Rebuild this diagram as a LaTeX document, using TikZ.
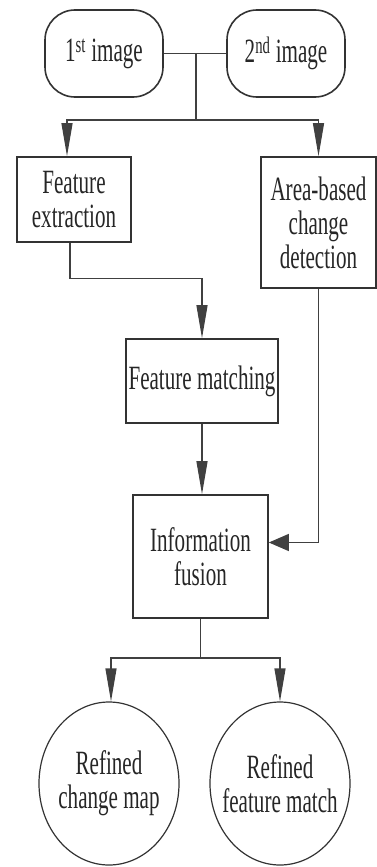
\documentclass[tikz,border=0pt]{standalone}
\usepackage{fontspec}
\setmainfont{Liberation Serif}[FakeStretch=0.62]
\usetikzlibrary{arrows.meta,shapes.geometric}

\begin{document}
\begin{tikzpicture}[x=1pt,y=-1pt,
  font=\fontsize{34}{34}\selectfont,
  box/.style={draw=black!80,line width=1.6pt,inner sep=0pt,align=center,text=black!85},
  ring/.style={ellipse,draw=black!80,line width=1.2pt,inner sep=0pt,minimum width=140pt,minimum height=163pt},
  wire/.style={draw=black!75,line width=1.2pt},
  arrv/.style={wire,-{Triangle[length=33pt,width=11pt]}},
  arrh/.style={wire,-{Triangle[length=20pt,width=17pt]}}]
\useasboundingbox (0,0) rectangle (377,867);

% inputs
\node[box,rounded corners=30pt,minimum width=118pt,minimum height=87pt] (img1) at (104,53.5) {1\textsuperscript{st} image};
\node[box,rounded corners=30pt,minimum width=118pt,minimum height=87pt] (img2) at (286,53.5) {2\textsuperscript{nd} image};

% processing
\node[box,minimum width=114pt,minimum height=85pt] (fext) at (74,199.5) {Feature\\extraction};
\node[box,minimum width=115pt,minimum height=131pt] (area) at (318.5,222.5) {Area-based\\change\\detection};
\node[box,minimum width=152pt,minimum height=84pt] (fmatch) at (202,381) {Feature matching};
\node[box,minimum width=135pt,minimum height=123pt] (fusion) at (200.5,556.5) {Information\\fusion};

% outputs
\node[ring,label={[align=center,text=black!85]center:Refined\\change map}] (cmap) at (109,783.5) {};
\node[ring,label={[align=center,text=black!85]center:Refined\\feature match}] (fmatchout) at (280,783.5) {};

\coordinate (split) at (196,120);
\coordinate (merge) at (200.5,658);

\draw[wire] (img1) -- (img2);
\draw[wire] (split |- img1) -- (split);
\draw[arrv] (split) -| ([xshift=-7pt]fext.north);
\draw[arrv] (split) -| (area.north);
\draw[arrv] ([xshift=-4pt]fext.south) -- ++(0,36) -| (fmatch.north);
\draw[arrv] (fmatch.south) -- (fmatch.south |- fusion.north);
\draw[arrh] (area.south) |- ([yshift=14pt]fusion.east);
\draw[wire] (fusion.south) -- (merge);
\draw[arrv] (merge) -| ([xshift=2pt]cmap.north);
\draw[arrv] (merge) -| (fmatchout.north);
\end{tikzpicture}
\end{document}
